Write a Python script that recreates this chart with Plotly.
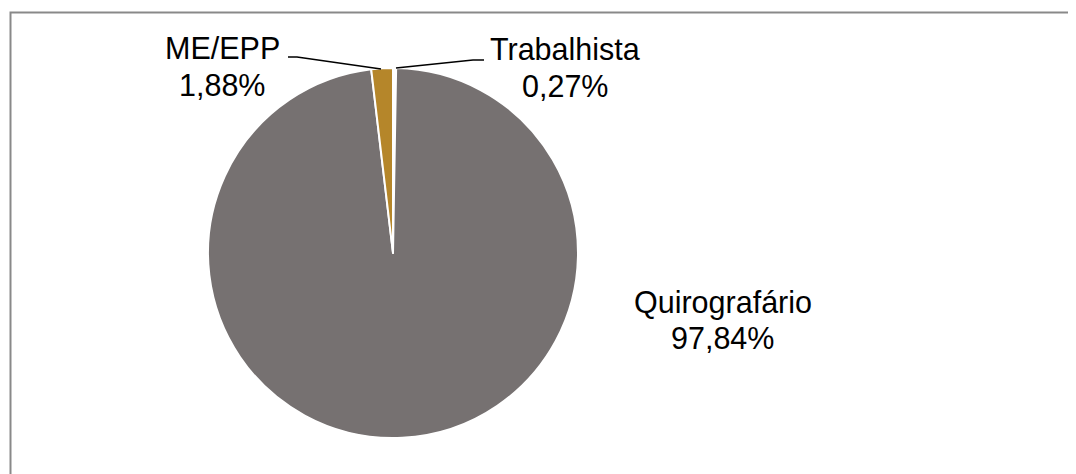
import plotly.graph_objects as go

W, H = 1076, 474
OFF = 8  # page body margin

# slice order clockwise from 12 o'clock
categories = ["Trabalhista", "Quirografário", "ME/EPP"]
values = [0.27, 97.84, 1.88]
colors = ["#FFFFFF", "#767171", "#B5862A"]

def fmt(v):
    return f"{v:.2f}".replace(".", ",") + "%"

def px(x, y):
    return (x - OFF) / W, 1 - (y - OFF) / H

cx, cy, r = 393, 253, 185
x0, y0 = px(cx - r, cy + r)
x1, y1 = px(cx + r, cy - r)

fig = go.Figure(go.Pie(
    labels=categories,
    values=values,
    sort=False,
    direction="clockwise",
    rotation=0,
    marker=dict(colors=colors, line=dict(color="#FFFFFF", width=2)),
    textinfo="none",
    hoverinfo="label+percent",
    showlegend=False,
    domain=dict(x=[x0, x1], y=[y0, y1]),
))

font = dict(family="Liberation Sans, Arial, sans-serif", size=30.5, color="#000000")
# (x center, line1 y center, line2 y center) in page pixels
label_pos = {"Quirografário": (723, 302, 338), "ME/EPP": (222, 48, 85), "Trabalhista": (565, 49, 86)}
annotations = []
for cat, v in zip(categories, values):
    lx, l1, l2 = label_pos[cat]
    for txt, ly in ((cat, l1), (fmt(v), l2)):
        X, Y = px(lx, ly)
        annotations.append(dict(x=X, y=Y, xref="paper", yref="paper",
                                xanchor="center", yanchor="middle",
                                text=txt, showarrow=False, font=font))

def path(points):
    s = ""
    for i, (x, y) in enumerate(points):
        X, Y = px(x, y)
        s += ("M" if i == 0 else "L") + f"{X},{Y} "
    return s.strip()

bx0, by1 = px(10.5, 12.5)
shapes = [
    dict(type="rect", xref="paper", yref="paper", x0=bx0, x1=1.1,
         y0=-0.1, y1=by1, line=dict(color="#898989", width=2)),
    dict(type="path", xref="paper", yref="paper",
         path=path([(288, 57), (297, 57), (381, 69)]), line=dict(color="#000000", width=1.5)),
    dict(type="path", xref="paper", yref="paper",
         path=path([(396, 68), (473, 60), (484, 60)]), line=dict(color="#000000", width=1.5)),
]

fig.update_layout(
    width=W, height=H,
    margin=dict(l=0, r=0, t=0, b=0),
    paper_bgcolor="#FFFFFF",
    plot_bgcolor="#FFFFFF",
    annotations=annotations,
    shapes=shapes,
)

fig.write_html("out.html")
